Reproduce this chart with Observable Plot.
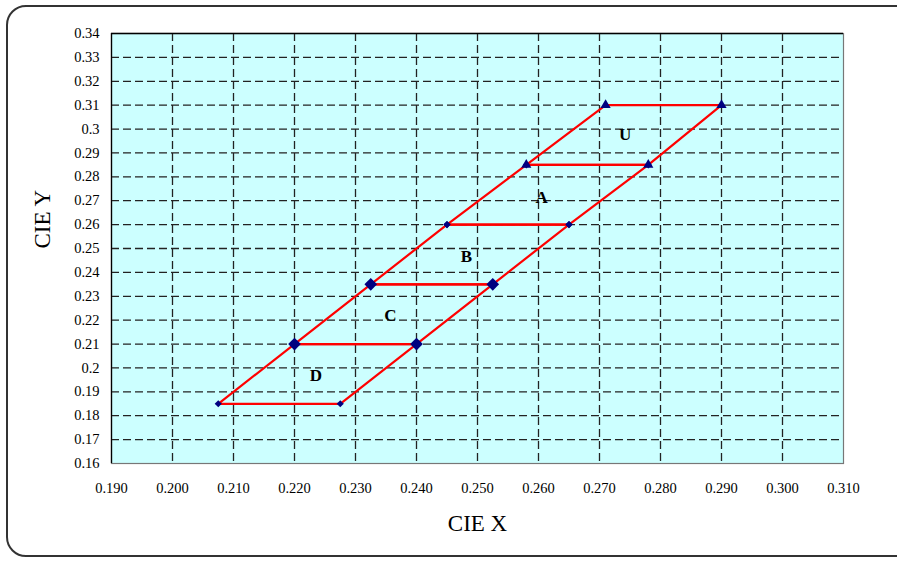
<!DOCTYPE html>
<html>
<head>
<meta charset="utf-8">
<script src="https://cdn.jsdelivr.net/npm/d3@7"></script>
<script src="https://cdn.jsdelivr.net/npm/@observablehq/plot@0.6"></script>
<style>
  html, body { margin: 0; padding: 0; background: #fff; }
  #wrap { position: relative; width: 897px; height: 562px; overflow: hidden; }
  #border { position: absolute; left: 6px; top: 5px; width: 920px; height: 552px;
            border: 2px solid #333; border-radius: 20px; box-sizing: border-box; }
  #chart { position: absolute; left: 0; top: 0; }
  #chart svg text { font-family: 'Liberation Serif', 'Times New Roman', serif; }
</style>
</head>
<body>
<div id="wrap"><div id="border"></div><div id="chart"></div></div>
<script>
// Regions (top to bottom)
const regions    = ["U", "A", "B", "C", "D"];
const topY       = [0.31, 0.285, 0.26, 0.235, 0.21];
const botY       = [0.285, 0.26, 0.235, 0.21, 0.185];
const topLeftX   = [0.271, 0.258, 0.245, 0.2325, 0.220];
const topRightX  = [0.290, 0.278, 0.265, 0.2525, 0.240];
const botLeftX   = [0.258, 0.245, 0.2325, 0.220, 0.2075];
const botRightX  = [0.278, 0.265, 0.2525, 0.240, 0.2275];
const labelX     = [0.2742, 0.2605, 0.2482, 0.2357, 0.2235];
const labelY     = [0.2975, 0.2715, 0.2465, 0.2218, 0.1968];
const markerSymbol = ["triangle", "diamond2", "diamond2", "diamond2", "diamond2"];
const markerR      = [3.8, 3.2, 3.2, 5.7, 3.2];

// Axis ticks
const xTicks = [0.19, 0.20, 0.21, 0.22, 0.23, 0.24, 0.25, 0.26, 0.27, 0.28, 0.29, 0.30, 0.31];
const yTicks = [0.16, 0.17, 0.18, 0.19, 0.20, 0.21, 0.22, 0.23, 0.24, 0.25, 0.26, 0.27, 0.28, 0.29, 0.30, 0.31, 0.32, 0.33, 0.34];
const xTitle = "CIE X";
const yTitle = "CIE Y";

// Build outline and point tables
const outline = [];
const points = [];
regions.forEach((r, i) => {
  const corners = [
    [topLeftX[i], topY[i]], [topRightX[i], topY[i]],
    [botRightX[i], botY[i]], [botLeftX[i], botY[i]], [topLeftX[i], topY[i]]
  ];
  corners.forEach(([x, y]) => outline.push({region: r, x, y}));
  corners.slice(0, 4).forEach(([x, y]) => points.push({region: r, x, y, symbol: markerSymbol[i], r: markerR[i], order: i}));
});
// lower regions first so upper markers sit on top; large ones last
points.sort((a, b) => (a.r - b.r) || (b.order - a.order));
const labels = regions.map((r, i) => ({text: r, x: labelX[i], y: labelY[i]}));

const serif = "'Liberation Serif', 'Times New Roman', serif";

const chart = Plot.plot({
  width: 897,
  height: 562,
  marginLeft: 111,
  marginRight: 54,
  marginTop: 33,
  marginBottom: 99,
  style: {fontFamily: serif, fontSize: "14px", background: "transparent", color: "#000"},
  x: {domain: [0.19, 0.31]},
  y: {domain: [0.16, 0.34]},
  r: {type: "identity"},
  symbol: {type: "identity"},
  marks: [
    Plot.frame({fill: "#ccffff", stroke: null}),
    Plot.gridX(xTicks.slice(1, -1), {stroke: "#222", strokeOpacity: 1, strokeWidth: 1.3, strokeDasharray: "8,4"}),
    Plot.gridY(yTicks.slice(1, -1), {stroke: "#222", strokeOpacity: 1, strokeWidth: 1.3, strokeDasharray: "8,4"}),
    Plot.frame({stroke: "#777", strokeWidth: 1.2}),
    Plot.ruleX([0.19], {stroke: "#000", strokeWidth: 1.3}),
    Plot.ruleY([0.34], {stroke: "#000", strokeWidth: 1.3}),
    Plot.axisX(xTicks, {tickSize: 0, tickPadding: 19, tickFormat: d3.format(".3f"), fontSize: 14.5, fontFamily: serif, fill: "#000", label: null}),
    Plot.axisY(yTicks, {tickSize: 0, tickPadding: 12, tickFormat: d => String(+d.toFixed(2)), fontSize: 14.5, fontFamily: serif, fill: "#000", label: null}),
    Plot.line(outline, {x: "x", y: "y", z: "region", stroke: "#ff0000", strokeWidth: 2.2}),
    Plot.dot(points, {x: "x", y: "y", symbol: "symbol", r: "r", fill: "#000080", stroke: "none"}),
    Plot.text(labels, {x: "x", y: "y", text: "text", fontWeight: "bold", fontSize: 17, fontFamily: serif, fill: "#000"}),
    Plot.text([xTitle], {frameAnchor: "bottom", dy: 67, text: d => d, fontSize: 23, fontFamily: serif, fill: "#000"}),
    Plot.text([yTitle], {frameAnchor: "left", dx: -69, rotate: -90, text: d => d, fontSize: 23, fontFamily: serif, fill: "#000"})
  ]
});
document.getElementById("chart").appendChild(chart);
</script>
</body>
</html>
